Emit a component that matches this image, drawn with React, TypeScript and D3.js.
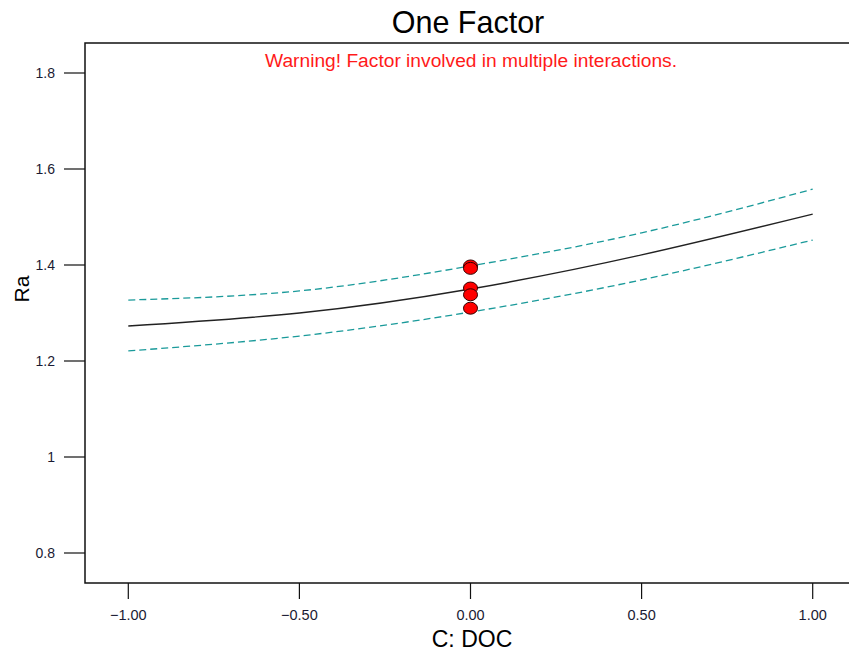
import React from "react";
import * as d3 from "d3";

const xTicks = [-1, -0.5, 0, 0.5, 1];
const yTicks = [0.8, 1, 1.2, 1.4, 1.6, 1.8];
const curveX = [-1, -0.5, 0, 0.5, 1];
const meanY = [1.273, 1.3, 1.35, 1.421, 1.506];
const upperY = [1.327, 1.346, 1.398, 1.467, 1.558];
const lowerY = [1.221, 1.252, 1.302, 1.369, 1.452];
const pointX = [0, 0, 0, 0, 0];
const pointY = [1.398, 1.393, 1.352, 1.338, 1.31];

export default function App() {
  const W = 849, H = 655;
  const left = 85, top = 43, bottom = 583, right = 851;
  const x = d3.scaleLinear().domain([-1, 1]).range([128.3, 812.7]);
  const y = d3.scaleLinear().domain([0.8, 1.8]).range([553, 73]);
  const line = (ys: number[]) =>
    d3.line<number>().x((_, i) => x(curveX[i])).y((d) => y(d)).curve(d3.curveNatural)(ys) || "";
  const font = "Arial, 'Liberation Sans', sans-serif";
  const xFmt = d3.format(".2f");
  const yFmt = (v: number) => (v === 1 ? "1" : d3.format(".1f")(v));
  return (
    <svg width={W} height={H} style={{ position: "absolute", left: 0, top: 0, background: "#fff" }} fontFamily={font}>
      <rect x={0} y={0} width={W} height={H} fill="#fff" />
      <text x={468} y={33} textAnchor="middle" fontSize={30.5} fill="#000">One Factor</text>
      <text x={471} y={67} textAnchor="middle" fontSize={19.2} fill="#ff1a1a">Warning! Factor involved in multiple interactions.</text>
      <rect x={left} y={top} width={right - left} height={bottom - top} fill="none" stroke="#111" strokeWidth={1.5} />
      {xTicks.map((t) => (
        <g key={"x" + t}>
          <line x1={x(t)} x2={x(t)} y1={bottom} y2={599} stroke="#111" strokeWidth={1.2} />
          <text x={x(t)} y={620} textAnchor="middle" fontSize={14.5} fill="#1a1a33">{xFmt(t)}</text>
        </g>
      ))}
      {yTicks.map((t) => (
        <g key={"y" + t}>
          <line x1={64} x2={left} y1={y(t)} y2={y(t)} stroke="#111" strokeWidth={1.2} />
          <text x={55} y={y(t) + 5} textAnchor="end" fontSize={14} fill="#1a1a33">{yFmt(t)}</text>
        </g>
      ))}
      <text x={472} y={647} textAnchor="middle" fontSize={23} fill="#000">C: DOC</text>
      <text transform="translate(29,289) rotate(-90)" textAnchor="middle" fontSize={21} fill="#000">Ra</text>
      <path d={line(upperY)} fill="none" stroke="#1a9a9a" strokeWidth={1.3} strokeDasharray="7,4" />
      <path d={line(lowerY)} fill="none" stroke="#1a9a9a" strokeWidth={1.3} strokeDasharray="7,4" />
      <path d={line(meanY)} fill="none" stroke="#222" strokeWidth={1.4} />
      {pointY.map((v, i) => (
        <ellipse key={i} cx={x(pointX[i])} cy={y(v)} rx={7} ry={6} fill="#ff0000" stroke="#300" strokeWidth={1} />
      ))}
    </svg>
  );
}
